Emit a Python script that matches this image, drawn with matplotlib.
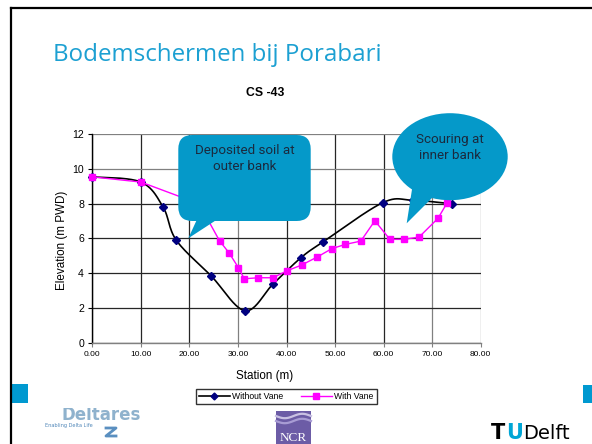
import numpy as np
import matplotlib
matplotlib.use("Agg")
import matplotlib.pyplot as plt
from matplotlib.patches import FancyBboxPatch, Ellipse, Polygon, Rectangle
from matplotlib.lines import Line2D

# ---------------- data ----------------
without_x = [0.0, 10.0, 14.6, 17.3, 24.5, 31.5, 37.3, 43.0, 47.5, 59.8, 66.0, 74.0]
without_y = [9.55, 9.25, 7.80, 5.90, 3.84, 1.84, 3.40, 4.90, 5.80, 8.06, 8.20, 8.00]

with_x = [0.0, 10.0, 22.0, 26.2, 28.2, 30.1, 31.3, 34.2, 37.2, 40.2, 43.1, 46.3,
          49.3, 52.1, 55.3, 58.2, 61.3, 64.1, 67.3, 71.2, 73.1, 75.5]
with_y = [9.55, 9.25, 8.00, 5.87, 5.16, 4.32, 3.68, 3.74, 3.74, 4.15, 4.47, 4.93,
          5.41, 5.66, 5.85, 7.02, 5.95, 5.95, 6.08, 7.16, 8.06, 8.70]

x_ticks = [0, 10, 20, 30, 40, 50, 60, 70, 80]
y_ticks = [0, 2, 4, 6, 8, 10, 12]

slide_title = "Bodemschermen bij Porabari"
chart_title = "CS -43"
x_label = "Station (m)"
y_label = "Elevation (m PWD)"
series_names = ["Without Vane", "With Vane"]
callout1 = "Deposited soil at\nouter bank"
callout2 = "Scouring at\ninner bank"

W, H = 592, 444


def catmull_rom(xs, ys, n=24):
    p = np.column_stack([xs, ys]).astype(float)
    p = np.vstack([p[0], p, p[-1]])
    out = []
    for i in range(1, len(p) - 2):
        p0, p1, p2, p3 = p[i - 1], p[i], p[i + 1], p[i + 2]
        t = np.linspace(0, 1, n, endpoint=False)[:, None]
        c = 0.5 * ((2 * p1) + (-p0 + p2) * t + (2 * p0 - 5 * p1 + 4 * p2 - p3) * t ** 2
                   + (-p0 + 3 * p1 - 3 * p2 + p3) * t ** 3)
        out.append(c)
    out.append(p[-2][None, :])
    c = np.vstack(out)
    return c[:, 0], c[:, 1]


fig = plt.figure(figsize=(W / 100, H / 100), dpi=100)
fig.patch.set_facecolor("white")

# main axes (pixel box: x 92.3..480.7, y 134.3..342.7)
ax = fig.add_axes([92.3 / W, 1 - 342.7 / H, (480.7 - 92.3) / W, (342.7 - 134.3) / H])
ax.set_xlim(0, 80)
ax.set_ylim(0, 12)
ax.set_xticks(x_ticks)
ax.set_xticklabels([f"{v:.2f}" for v in x_ticks], fontsize=6, family="Liberation Sans")
ax.set_yticks(y_ticks)
ax.set_yticklabels([str(v) for v in y_ticks], fontsize=7.6, family="Liberation Sans")
ax.tick_params(axis="both", length=3, width=0.8, color="#808080", pad=3)
ax.tick_params(axis="y", color="black")
for s in ["top", "right"]:
    ax.spines[s].set_visible(False)
ax.spines["left"].set_color("black")
ax.spines["left"].set_linewidth(1.0)
ax.spines["bottom"].set_color("#808080")
ax.spines["bottom"].set_linewidth(1.0)
ax.grid(True, color="#262626", linewidth=0.9)
ax.set_axisbelow(True)
for i, gl in enumerate(ax.get_xgridlines()):
    if x_ticks[i] in (30, 70, 80):
        gl.set_color("#808080")
for i, gl in enumerate(ax.get_ygridlines()):
    if y_ticks[i] in (10, 12):
        gl.set_color("#808080")

sx, sy = catmull_rom(without_x, without_y)
ax.plot(sx, sy, color="black", linewidth=1.2, zorder=3, clip_on=False)
ax.plot(without_x, without_y, linestyle="none", marker="D", markersize=4.2,
        color="#000080", markeredgecolor="#000080", zorder=4, clip_on=False)
ax.plot(with_x, with_y, color="#FF00FF", linewidth=1.0, marker="s", markersize=5,
        markeredgecolor="#FF00FF", zorder=5, clip_on=False)

ax.set_xlabel(x_label, fontsize=8.4, family="Liberation Sans")
ax.xaxis.set_label_coords((265 - 92.3) / 388.4, (342.7 - 375.5) / 208.4)
ax.xaxis.label.set_va("center")
ax.set_ylabel(y_label, fontsize=8.4, family="Liberation Sans")
ax.yaxis.set_label_coords((62 - 92.3) / 388.4, (342.7 - 240) / 208.4)
ax.yaxis.label.set_va("center")

handles = [Line2D([], [], color="black", linewidth=1.2, marker="D", markersize=3.5,
                  markerfacecolor="#000080", markeredgecolor="#000080"),
           Line2D([], [], color="#FF00FF", linewidth=1.0, marker="s", markersize=4,
                  markeredgecolor="#FF00FF")]
leg = fig.legend(handles, series_names, loc="center",
                 bbox_to_anchor=(286.2 / W, 1 - 396.7 / H), ncol=2, frameon=True,
                 fancybox=False, edgecolor="black", prop={"family": "Liberation Sans", "size": 6.2},
                 handlelength=3.6, columnspacing=2.0, handletextpad=0.3, borderpad=0.35)
leg.get_frame().set_linewidth(1.0)

# overlay axes in pixel coordinates for slide decorations
ov = fig.add_axes([0, 0, 1, 1], zorder=10)
ov.set_xlim(0, W)
ov.set_ylim(H, 0)
ov.axis("off")
ov.patch.set_alpha(0)

# slide frame
ov.plot([11, W + 5], [8.5, 8.5], color="black", linewidth=1.6, clip_on=False)
ov.plot([11, 11], [8.5, H + 5], color="black", linewidth=1.6, clip_on=False)

ov.text(53, 60.7, slide_title, fontsize=17.4, color="#1CA0D2", family="Open Sans",
        ha="left", va="baseline")
ov.text(265.5, 92.7, chart_title, fontsize=8.8, fontweight="bold", family="Liberation Sans",
        ha="center", va="center")

callout_color = "#0599C9"
text_color = "#1B2A3E"
cfont = ["Roboto", "DejaVu Sans"]
# callout 1
ov.add_patch(FancyBboxPatch((178.3, 135), 132.4, 86, boxstyle="round,pad=0,rounding_size=14",
                            facecolor=callout_color, edgecolor="none"))
ov.add_patch(Polygon([(199, 215), (224, 215), (188.3, 238.3)], closed=True,
                     facecolor=callout_color, edgecolor="none"))
ov.text(245, 158, callout1, fontsize=9.6, color=text_color, family=cfont,
        ha="center", va="center", linespacing=1.3)
# callout 2
ov.add_patch(Ellipse((450, 156.7), 115.4, 87, facecolor=callout_color, edgecolor="none"))
ov.add_patch(Polygon([(413, 183), (438, 192), (406.7, 223.3)], closed=True,
                     facecolor=callout_color, edgecolor="none"))
ov.text(450, 147.5, callout2, fontsize=9.6, color=text_color, family=cfont,
        ha="center", va="center", linespacing=1.3)

# blue corner squares
ov.add_patch(Rectangle((12, 384), 16, 18.5, facecolor="#0099D0", edgecolor="none"))
ov.add_patch(Rectangle((583, 385), 12, 17.5, facecolor="#0099D0", edgecolor="none"))

# Deltares logo (text)
ov.text(101, 420, "Deltares", fontsize=12, fontweight="bold", color="#8FB2CD",
        family="DejaVu Sans", ha="center", va="baseline")
ov.add_patch(Rectangle((60, 395), 85, 13, facecolor="white", edgecolor="none", zorder=3))
ov.text(45, 425, "Enabling Delta Life", fontsize=3.6, color="#4F86B8", ha="left", va="center")
ov.plot([106, 116, 106, 116], [428, 428, 436, 436], color="#5A8FC0", linewidth=2)

# NCR logo
ov.add_patch(Rectangle((276, 411), 35, 34, facecolor="#6C5CA6", edgecolor="none"))
wx = np.linspace(276, 311, 30)
for k, c in enumerate(["#C9C1E3", "#A89CD4"]):
    ov.plot(wx, 416 + 5 * k + 2.2 * np.sin((wx - 276) / 35 * 2 * np.pi), color=c, linewidth=1.6)
ov.text(293.5, 440.5, "NCR", fontsize=9.5, color="white", family="Liberation Serif",
        ha="center", va="baseline")

# TU Delft logo
ov.text(491, 439, "T", fontsize=15, fontweight="bold", color="black", family="DejaVu Sans",
        ha="left", va="baseline")
ov.text(506, 439, "U", fontsize=15, fontweight="bold", color="#00A6D6", family="DejaVu Sans",
        ha="left", va="baseline")
ov.text(523, 439, "Delft", fontsize=14, color="black", family="DejaVu Sans",
        ha="left", va="baseline")

fig.savefig("out.png", dpi=100)
